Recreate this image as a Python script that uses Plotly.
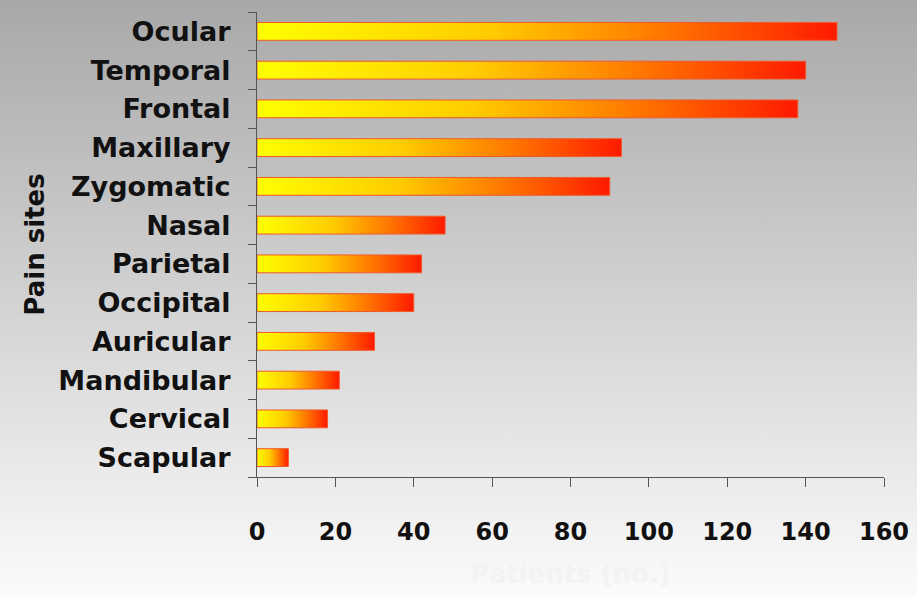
import base64
import plotly.graph_objects as go

categories = ["Ocular", "Temporal", "Frontal", "Maxillary", "Zygomatic", "Nasal",
              "Parietal", "Occipital", "Auricular", "Mandibular", "Cervical", "Scapular"]
patients = [148, 140, 138, 93, 90, 48, 42, 40, 30, 21, 18, 8]
x_ticks = [0, 20, 40, 60, 80, 100, 120, 140, 160]

W, H = 917, 596
ML, MR, MT, MB = 257, 33, 12, 119
PW, PH = W - ML - MR, H - MT - MB

n = len(categories)
half = 0.23
grad = [[0, "#ffff00"], [0.4, "#ffcc00"], [0.7, "#ff7700"], [1, "#ff1a00"]]

fig = go.Figure()
for i, (cat, v) in enumerate(zip(categories, patients)):
    yc = n - 1 - i
    fig.add_trace(go.Scatter(
        x=[0, v, v, 0, 0],
        y=[yc - half, yc - half, yc + half, yc + half, yc - half],
        mode="lines", fill="toself",
        line=dict(color="#f05a28", width=1),
        fillgradient=dict(type="horizontal", colorscale=grad),
        hoverinfo="text", text=f"{cat}: {v}", showlegend=False,
    ))

svg = (f'<svg xmlns="http://www.w3.org/2000/svg" width="{W}" height="{H}" '
       f'viewBox="0 0 {W} {H}" preserveAspectRatio="none"><defs>'
       '<linearGradient id="g" x1="0" y1="0" x2="0" y2="1">'
       '<stop offset="0" stop-color="#a8a8a8"/>'
       '<stop offset="0.5" stop-color="#d2d2d2"/>'
       '<stop offset="1" stop-color="#fbfbfb"/>'
       f'</linearGradient></defs><rect width="{W}" height="{H}" fill="url(#g)"/></svg>')
src = "data:image/svg+xml;base64," + base64.b64encode(svg.encode()).decode()

font = "DejaVu Sans"
fig.update_layout(
    width=W, height=H,
    margin=dict(l=ML, r=MR, t=MT, b=MB, pad=0, autoexpand=False),
    paper_bgcolor="#ffffff", plot_bgcolor="rgba(0,0,0,0)",
    font=dict(family=font, color="#111111", weight="bold"),
    images=[dict(source=src, xref="paper", yref="paper",
                 x=-ML / PW, y=1 + MT / PH, sizex=W / PW, sizey=H / PH,
                 xanchor="left", yanchor="top", sizing="stretch", layer="below")],
    xaxis=dict(range=[0, 160], tickvals=x_ticks, ticktext=[str(t) for t in x_ticks],
               automargin=False,
               showgrid=False, zeroline=False, showline=True, linecolor="#555555",
               linewidth=1, ticks="outside", ticklen=9, tickcolor="#555555",
               tickfont=dict(family=font, size=24, color="#111111", weight="bold"),
               ticklabelstandoff=24,
               title=dict(text="Patients (no.)",
                          font=dict(family=font, size=26, color="#f3f3f3", weight="bold"),
                          standoff=20)),
    yaxis=dict(range=[-0.5, n - 0.5], tickvals=list(range(n)),
               ticktext=categories[::-1], showgrid=False, zeroline=False,
               automargin=False,
               showline=True, linecolor="#555555", linewidth=1,
               ticks="", ticklen=0,
               minor=dict(tickmode="array", tickvals=[k + 0.5 for k in range(-1, n)],
                          ticks="outside", ticklen=8, tickcolor="#555555", tickwidth=1, showgrid=False),
               tickfont=dict(family=font, size=27, color="#111111", weight="bold"),
               ticklabelstandoff=20,
               title=dict(text="Pain sites",
                          font=dict(family=font, size=26, color="#111111", weight="bold"),
                          standoff=6)),
)

fig.write_html("out.html")
